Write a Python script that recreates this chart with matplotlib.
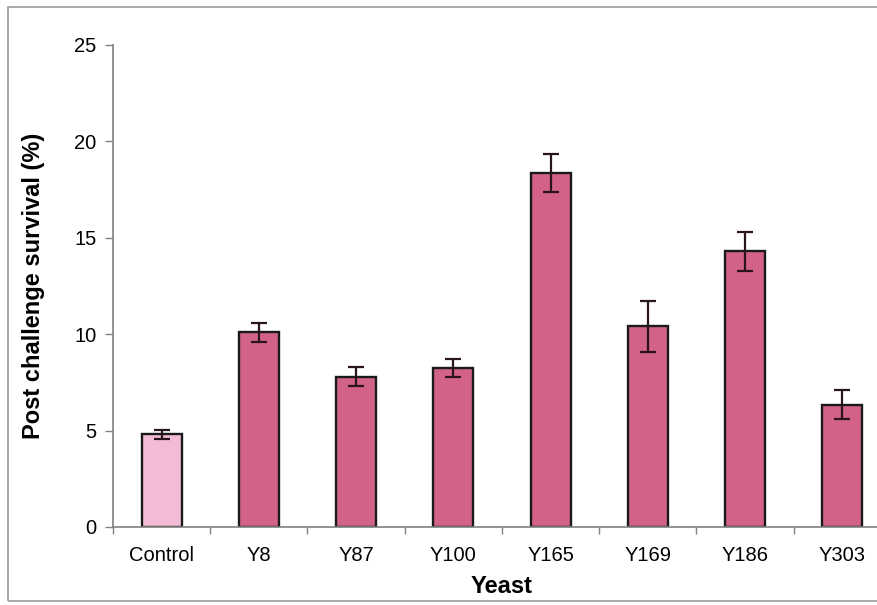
import matplotlib
matplotlib.use("Agg")
import matplotlib.pyplot as plt
from matplotlib.patches import Rectangle

# data
strains = ["Control", "Y8", "Y87", "Y100", "Y165", "Y169", "Y186", "Y303"]
survival = [4.8, 10.1, 7.8, 8.25, 18.35, 10.4, 14.3, 6.35]
sem = [0.25, 0.5, 0.5, 0.45, 1.0, 1.3, 1.0, 0.75]
bar_colors = ["#f2bcd6"] + ["#d3628a"] * 7

plt.rcParams["font.family"] = ["Liberation Sans", "DejaVu Sans"]

fig = plt.figure(figsize=(8.78, 6.05), dpi=100)
W, H = 878, 605
ax = fig.add_axes([113 / W, 1 - 527 / H, (891 - 113) / W, (527 - 45) / H])

x = list(range(len(strains)))
ax.bar(x, survival, width=0.41, color=bar_colors, edgecolor="#1a1a1a",
       linewidth=1.7, zorder=2)
ax.errorbar(x, survival, yerr=sem, fmt="none", ecolor="#2a1518",
            elinewidth=1.6, capsize=6, capthick=1.6, zorder=3)

ax.set_xlim(-0.5, len(strains) - 0.5)
ax.set_ylim(0, 25)
ax.set_yticks([0, 5, 10, 15, 20, 25])
ax.set_xticks(x)
ax.set_xticklabels(strains)
ax.set_xticks([i - 0.5 for i in range(len(strains) + 1)], minor=True)
ax.tick_params(axis="x", which="major", length=0, pad=14, labelsize=14.5)
ax.tick_params(axis="x", which="minor", length=5, color="#808080", width=1)
ax.tick_params(axis="y", length=6, color="#808080", width=1, labelsize=14.5, pad=6)

for s in ["top", "right"]:
    ax.spines[s].set_visible(False)
for s in ["left", "bottom"]:
    ax.spines[s].set_color("#808080")
    ax.spines[s].set_linewidth(1.2)

ax.set_xlabel("Yeast", fontsize=17, fontweight="bold", labelpad=7)
ax.set_ylabel("Post challenge survival (%)", fontsize=17, fontweight="bold",
              labelpad=21)

# outer chart border
fig.patches.append(Rectangle((8 / W, 1 - 601 / H), 1.0, (601 - 7) / H,
                             transform=fig.transFigure, fill=False,
                             edgecolor="#9a9a9a", linewidth=1.2))

fig.savefig("out.png", dpi=100)
